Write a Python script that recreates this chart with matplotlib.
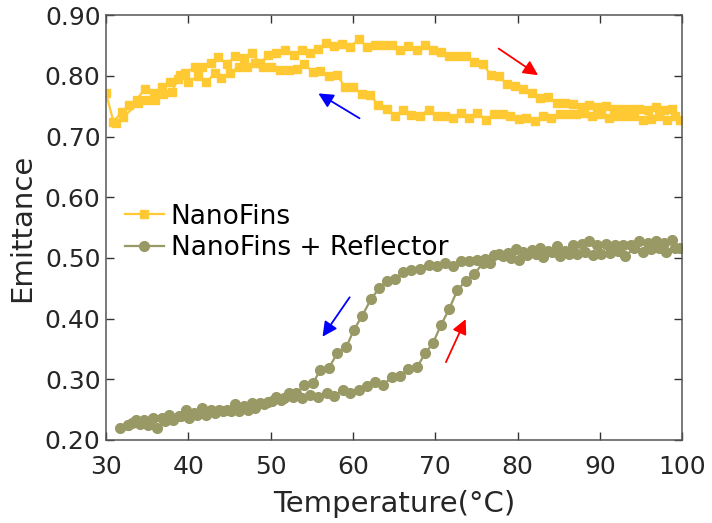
import matplotlib
matplotlib.use("Agg")
import matplotlib.pyplot as plt

# NanoFins, heating run (left -> right)
fin_heat_t = [30.0, 30.9, 31.9, 32.8, 33.7, 34.7, 35.8, 36.8, 37.8, 38.7, 39.6, 40.8, 41.7, 42.7,
              43.6, 44.7, 45.7, 46.7, 47.7, 48.7, 49.7, 50.7, 51.7, 52.8, 53.8, 54.8, 55.8, 56.7,
              57.7, 58.7, 59.6, 60.7, 61.7, 62.7, 63.7, 64.7, 65.7, 66.7, 67.8, 68.8, 69.7, 70.7,
              71.7, 72.7, 73.7, 74.7, 75.8, 76.8, 77.7, 78.7, 79.7, 80.7, 81.7, 82.7, 83.7, 84.8,
              85.8, 86.8, 87.8, 88.7, 89.7, 90.7, 91.7, 92.7, 93.8, 94.8, 95.8, 96.8, 97.8, 98.8, 99.7]
fin_heat_e = [0.771, 0.724, 0.741, 0.752, 0.760, 0.779, 0.771, 0.782, 0.790, 0.795, 0.804, 0.815,
              0.815, 0.821, 0.831, 0.820, 0.832, 0.829, 0.837, 0.821, 0.834, 0.837, 0.842, 0.834,
              0.842, 0.837, 0.845, 0.854, 0.849, 0.852, 0.847, 0.860, 0.848, 0.851, 0.851, 0.851,
              0.843, 0.849, 0.842, 0.851, 0.843, 0.840, 0.832, 0.832, 0.832, 0.823, 0.819, 0.801,
              0.800, 0.786, 0.783, 0.779, 0.771, 0.763, 0.765, 0.756, 0.756, 0.753, 0.749, 0.752,
              0.748, 0.750, 0.745, 0.746, 0.746, 0.745, 0.744, 0.748, 0.744, 0.746, 0.727]

# NanoFins, cooling run (right -> left)
fin_cool_t = [99.1, 98.2, 97.2, 96.2, 95.2, 94.1, 93.1, 92.1, 91.1, 90.1, 89.1, 88.1, 87.1, 86.1,
              85.2, 84.1, 83.1, 82.1, 81.0, 80.2, 79.1, 78.2, 77.2, 76.2, 75.1, 74.1, 73.1, 72.1,
              71.2, 70.2, 69.2, 68.1, 67.1, 66.1, 65.1, 64.1, 63.1, 62.1, 61.1, 60.0, 59.0, 58.1,
              57.1, 56.0, 55.1, 54.1, 53.2, 52.2, 51.1, 50.1, 49.1, 48.1, 47.1, 46.1, 45.0, 44.0,
              43.2, 42.2, 41.2, 40.0, 39.0, 38.0, 36.9, 36.0, 34.9, 33.9, 32.1, 31.2]
fin_cool_e = [0.734, 0.727, 0.734, 0.729, 0.727, 0.733, 0.733, 0.734, 0.731, 0.737, 0.733, 0.739,
              0.737, 0.737, 0.737, 0.731, 0.733, 0.725, 0.731, 0.729, 0.733, 0.737, 0.737, 0.728,
              0.738, 0.730, 0.738, 0.731, 0.734, 0.734, 0.744, 0.734, 0.735, 0.744, 0.733, 0.746,
              0.752, 0.768, 0.770, 0.782, 0.782, 0.801, 0.800, 0.808, 0.807, 0.819, 0.812, 0.809,
              0.809, 0.815, 0.815, 0.821, 0.815, 0.815, 0.804, 0.797, 0.804, 0.790, 0.800, 0.790,
              0.801, 0.774, 0.770, 0.760, 0.760, 0.755, 0.732, 0.722]

# NanoFins + Reflector, heating run
ref_heat_t = [31.7, 32.7, 33.6, 34.6, 35.7, 36.8, 37.7, 38.8, 39.7, 40.7, 41.7, 42.7, 43.7, 44.7,
              45.7, 46.7, 47.7, 48.7, 49.7, 50.7, 51.6, 52.7, 53.8, 54.8, 55.8, 56.8, 57.7, 58.8,
              59.7, 60.7, 61.7, 62.7, 63.7, 64.7, 65.7, 66.7, 67.8, 68.8, 69.7, 70.7, 71.7, 72.7,
              73.7, 74.7, 75.8, 76.7, 77.7, 78.8, 79.8, 80.7, 81.7, 82.7, 83.7, 84.8, 85.8, 86.8,
              87.8, 88.7, 89.7, 90.7, 91.8, 92.8, 93.8, 94.8, 95.8, 96.8, 97.8, 98.8, 99.7]
ref_heat_e = [0.219, 0.225, 0.233, 0.233, 0.236, 0.236, 0.241, 0.239, 0.249, 0.245, 0.252, 0.250,
              0.249, 0.249, 0.259, 0.255, 0.261, 0.261, 0.263, 0.271, 0.269, 0.271, 0.269, 0.274,
              0.271, 0.277, 0.273, 0.282, 0.277, 0.282, 0.289, 0.295, 0.290, 0.304, 0.305, 0.316,
              0.320, 0.343, 0.359, 0.389, 0.416, 0.447, 0.462, 0.473, 0.491, 0.491, 0.506, 0.508,
              0.514, 0.510, 0.513, 0.517, 0.512, 0.519, 0.512, 0.521, 0.523, 0.527, 0.521, 0.523,
              0.521, 0.521, 0.521, 0.527, 0.525, 0.527, 0.525, 0.530, 0.516]

# NanoFins + Reflector, cooling run
ref_cool_t = [99.1, 98.1, 97.2, 96.2, 95.2, 94.2, 93.1, 92.2, 91.2, 90.2, 89.2, 88.2, 87.2, 86.2,
              85.2, 84.2, 83.1, 82.2, 81.2, 80.2, 79.2, 78.2, 77.2, 76.1, 75.1, 74.1, 73.1, 72.1,
              71.2, 70.2, 69.2, 68.2, 67.1, 66.1, 65.1, 64.1, 63.2, 62.2, 61.1, 60.1, 59.2, 58.1,
              57.1, 56.0, 55.2, 54.1, 53.1, 52.2, 51.2, 50.2, 49.2, 48.1, 47.2, 46.2, 45.2, 44.2,
              43.2, 42.2, 41.1, 40.1, 39.1, 38.1, 37.1, 36.2, 35.1, 34.1, 33.1, 32.7]
ref_cool_e = [0.516, 0.510, 0.516, 0.514, 0.510, 0.516, 0.503, 0.512, 0.508, 0.507, 0.505, 0.510,
              0.507, 0.507, 0.503, 0.510, 0.501, 0.507, 0.505, 0.497, 0.499, 0.503, 0.505, 0.498,
              0.497, 0.494, 0.494, 0.487, 0.491, 0.487, 0.488, 0.481, 0.480, 0.476, 0.465, 0.461,
              0.450, 0.432, 0.404, 0.381, 0.353, 0.343, 0.319, 0.315, 0.294, 0.290, 0.277, 0.277,
              0.266, 0.264, 0.259, 0.253, 0.250, 0.247, 0.247, 0.247, 0.245, 0.241, 0.241, 0.236,
              0.240, 0.232, 0.231, 0.220, 0.225, 0.226, 0.228, 0.225]

fin_color = "#FFC933"
ref_color = "#999966"

plt.rcParams["font.family"] = "DejaVu Sans"

fig = plt.figure(figsize=(7.12, 5.23), dpi=100)
ax = fig.add_axes([0.149, 0.159, 0.809, 0.812])

ax.plot(fin_heat_t + fin_cool_t, fin_heat_e + fin_cool_e, color=fin_color, lw=1.6,
        marker="s", markersize=5.8, label="NanoFins")
ax.plot(ref_heat_t + ref_cool_t, ref_heat_e + ref_cool_e, color=ref_color, lw=1.6,
        marker="o", markersize=7, label="NanoFins + Reflector")

# heating / cooling arrows
def arrow(x0, y0, x1, y1, c):
    ax.annotate("", xy=(x1, y1), xytext=(x0, y0),
                arrowprops=dict(arrowstyle="-|>", color=c, lw=1.3, mutation_scale=22,
                                shrinkA=0, shrinkB=0))

arrow(77.7, 0.845, 82.5, 0.801, "red")
arrow(60.8, 0.730, 55.8, 0.771, "blue")
arrow(59.6, 0.435, 56.3, 0.370, "blue")
arrow(71.3, 0.328, 73.7, 0.399, "red")

ax.set_xlim(30, 100)
ax.set_ylim(0.20, 0.90)
ax.set_xticks([30, 40, 50, 60, 70, 80, 90, 100])
ax.set_yticks([0.2, 0.3, 0.4, 0.5, 0.6, 0.7, 0.8, 0.9])
ax.set_yticklabels(["%.2f" % v for v in ax.get_yticks()])
ax.tick_params(direction="in", top=True, right=True, length=6, width=1,
               labelsize=18, labelcolor="#262626", color="#333333", pad=4)
ax.tick_params(axis="x", pad=11)
for s in ax.spines.values():
    s.set_color("#555555")
    s.set_linewidth(1.1)

ax.set_xlabel("Temperature(°C)", fontsize=21, color="#262626", labelpad=8)
ax.set_ylabel("Emittance", fontsize=21, color="#262626", labelpad=6)

ax.legend(loc="upper left", bbox_to_anchor=(0.0, 0.6), frameon=False, fontsize=19,
          handlelength=1.5, handletextpad=0.25, labelspacing=0.2, borderaxespad=0.3)

fig.savefig("out.png", dpi=100)
